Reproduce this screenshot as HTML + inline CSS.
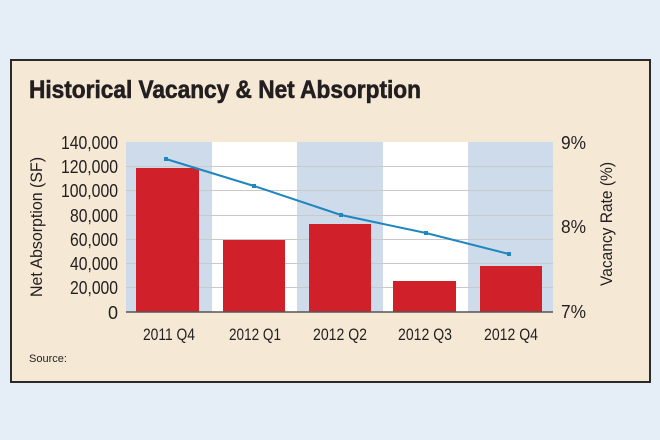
<!DOCTYPE html>
<html><head><meta charset="utf-8"><style>
html,body{margin:0;padding:0;background:#e5edf6;}
svg{display:block;font-family:"Liberation Sans",sans-serif;}
</style></head><body>
<svg width="660" height="440" viewBox="0 0 660 440">
<rect width="660" height="440" fill="#e5edf6"/>
<rect x="11" y="60" width="639" height="322" fill="#f5e8d5" stroke="#2a2a2a" stroke-width="2"/>
<text x="29" y="98" font-size="25" font-weight="bold" fill="#231f20" stroke="#231f20" stroke-width="0.6" textLength="392" lengthAdjust="spacingAndGlyphs">Historical Vacancy &amp; Net Absorption</text>
<rect x="126" y="142" width="86" height="170" fill="#cddbea"/>
<rect x="212" y="142" width="85" height="170" fill="#ffffff"/>
<rect x="297" y="142" width="86" height="170" fill="#cddbea"/>
<rect x="383" y="142" width="85" height="170" fill="#ffffff"/>
<rect x="468" y="142" width="85" height="170" fill="#cddbea"/>
<g stroke="#c9c9c9" stroke-width="1">
<line x1="126" y1="166.5" x2="553" y2="166.5"/>
<line x1="126" y1="190.5" x2="553" y2="190.5"/>
<line x1="126" y1="215.5" x2="553" y2="215.5"/>
<line x1="126" y1="239.5" x2="553" y2="239.5"/>
<line x1="126" y1="263.5" x2="553" y2="263.5"/>
<line x1="126" y1="287.5" x2="553" y2="287.5"/>
</g>
<g fill="#d0202a">
<rect x="136" y="168" width="63" height="144"/>
<rect x="223" y="240" width="62" height="72"/>
<rect x="309" y="224" width="62" height="88"/>
<rect x="393" y="281" width="63" height="31"/>
<rect x="480" y="266" width="62" height="46"/>
</g>
<line x1="126" y1="312" x2="553" y2="312" stroke="#555" stroke-width="1.5"/>
<polyline points="166,159 254,186 341,215 426,233 509,254" fill="none" stroke="#1f86c0" stroke-width="2"/>
<g fill="#1f86c0">
<rect x="164" y="157" width="4" height="4"/><rect x="252" y="184" width="4" height="4"/><rect x="339" y="213" width="4" height="4"/><rect x="424" y="231" width="4" height="4"/><rect x="507" y="252" width="4" height="4"/>
</g>
<g font-size="18" fill="#231f20" text-anchor="end" lengthAdjust="spacingAndGlyphs">
<text x="118" y="149" textLength="57" lengthAdjust="spacingAndGlyphs">140,000</text>
<text x="118" y="173" textLength="57" lengthAdjust="spacingAndGlyphs">120,000</text>
<text x="118" y="197" textLength="57" lengthAdjust="spacingAndGlyphs">100,000</text>
<text x="118" y="222" textLength="48" lengthAdjust="spacingAndGlyphs">80,000</text>
<text x="118" y="246" textLength="48" lengthAdjust="spacingAndGlyphs">60,000</text>
<text x="118" y="270" textLength="48" lengthAdjust="spacingAndGlyphs">40,000</text>
<text x="118" y="294" textLength="48" lengthAdjust="spacingAndGlyphs">20,000</text>
<text x="118" y="319">0</text>
</g>
<g font-size="17" fill="#231f20" text-anchor="middle">
<text x="169" y="340" textLength="52" lengthAdjust="spacingAndGlyphs">2011 Q4</text>
<text x="255" y="340" textLength="52" lengthAdjust="spacingAndGlyphs">2012 Q1</text>
<text x="340" y="340" textLength="54" lengthAdjust="spacingAndGlyphs">2012 Q2</text>
<text x="425" y="340" textLength="54" lengthAdjust="spacingAndGlyphs">2012 Q3</text>
<text x="511" y="340" textLength="54" lengthAdjust="spacingAndGlyphs">2012 Q4</text>
</g>
<g font-size="18" fill="#231f20">
<text x="561" y="149" textLength="25" lengthAdjust="spacingAndGlyphs">9%</text>
<text x="561" y="233" textLength="25" lengthAdjust="spacingAndGlyphs">8%</text>
<text x="561" y="318" textLength="25" lengthAdjust="spacingAndGlyphs">7%</text>
</g>
<text transform="translate(42,227) rotate(-90)" font-size="17" fill="#231f20" text-anchor="middle" textLength="140" lengthAdjust="spacingAndGlyphs">Net Absorption (SF)</text>
<text transform="translate(612,224) rotate(-90)" font-size="17" fill="#231f20" text-anchor="middle" textLength="124" lengthAdjust="spacingAndGlyphs">Vacancy Rate (%)</text>
<text x="29" y="362" font-size="11" fill="#231f20">Source:</text>
</svg>
</body></html>
